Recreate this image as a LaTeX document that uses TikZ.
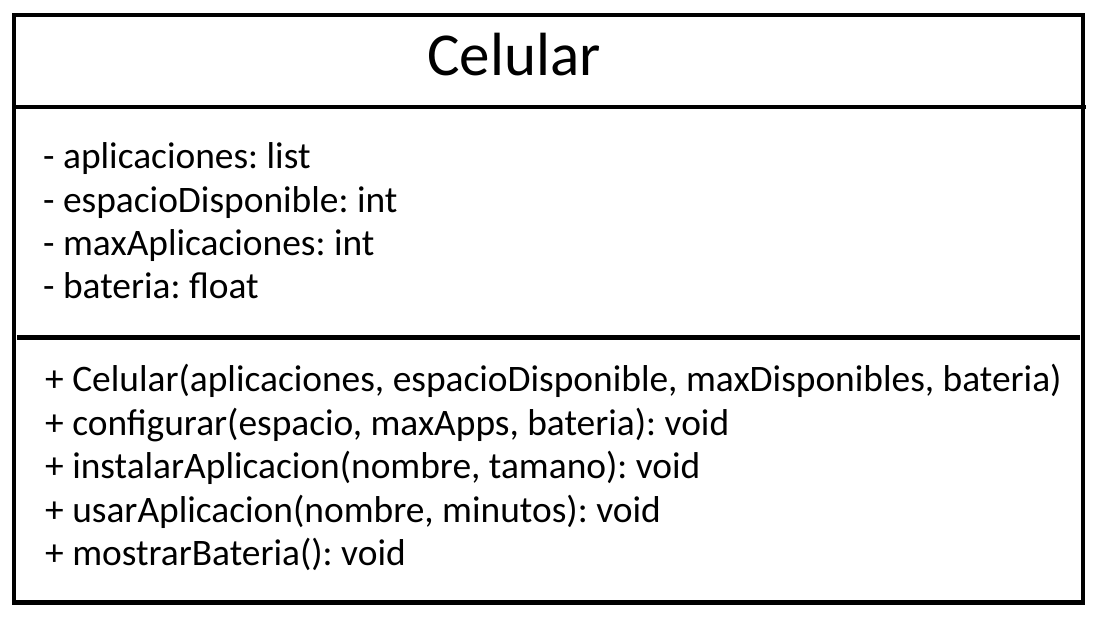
\documentclass[tikz,border=0pt]{standalone}
\usepackage{fontspec}
\setmainfont{Carlito}
\frenchspacing
\usetikzlibrary{positioning}

\begin{document}
\begin{tikzpicture}[
    x=1pt, y=1pt,
    frame/.style={line width=4.5pt, line cap=rect},
    member/.style={anchor=base west, inner sep=0pt, font=\fontsize{37.4}{42}\selectfont},
    title/.style={anchor=base, inner sep=0pt, font=\fontsize{61}{66}\selectfont},
]
\useasboundingbox (0,0) rectangle (1105,625);

% Class box and compartment lines
\draw[frame] (14,22.5) rectangle (1083,610);
\coordinate (sepA west) at (14,518);
\coordinate (sepA east) at (1086,518);
\coordinate (sepB west) at (17,287.5);
\coordinate (sepB east) at (1080,287.5);
\draw[frame, line cap=butt] (sepA west) -- (sepA east);
\draw[frame, line cap=butt] (sepB west) -- (sepB east);

% Class name
\node[title] (name) at (514,549) {Celular};

% Attributes
\node[member] (aplic) at (43,456) {- aplicaciones: list};
\node[member] (espacio) at (43,413) {- espacioDisponible: int};
\node[member] (maxapps) at (43,370) {- maxAplicaciones: int};
\node[member] (bateria) at (43,327) {- bateria: float};

% Methods
\node[member] (ctor) at (45,234) {+ Celular(aplicaciones, espacioDisponible, maxDisponibles, bateria)};
\node[member] (config) at (45,190) {+ configurar(espacio, maxApps, bateria): void};
\node[member] (instalar) at (45,147) {+ instalarAplicacion(nombre, tamano): void};
\node[member] (usar) at (45,103) {+ usarAplicacion(nombre, minutos): void};
\node[member] (mostrar) at (45,60) {+ mostrarBateria(): void};

\end{tikzpicture}
\end{document}
